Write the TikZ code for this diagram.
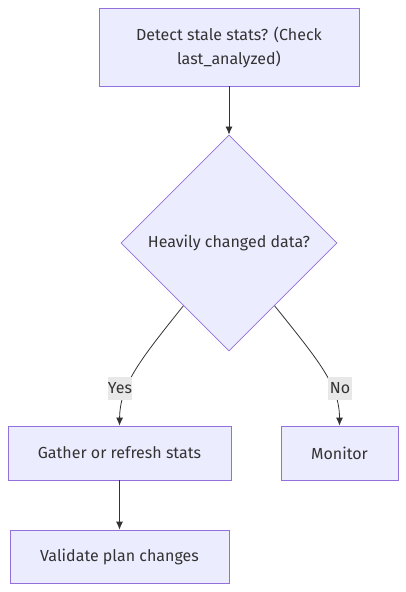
\documentclass[tikz,border=0pt]{standalone}
\usepackage{fontspec}
\setmainfont{Fira Sans}
\usetikzlibrary{arrows.meta, shapes.geometric, positioning}
\definecolor{boxfill}{HTML}{ECECFF}
\definecolor{boxline}{HTML}{9370DB}
\definecolor{edgecol}{HTML}{333333}
\definecolor{lblfill}{HTML}{E8E8E8}

\tikzset{
  flowbox/.style={draw=boxline, fill=boxfill, line width=0.8pt, inner sep=0pt,
    align=center, text=edgecol, font=\fontsize{16}{24}\selectfont},
  decision/.style={flowbox, diamond, aspect=1, minimum size=216pt},
  flowedge/.style={draw=edgecol, line width=0.8pt, -{Latex[length=8pt,width=7pt]}},
  edgelabel/.style={fill=lblfill, text=edgecol, inner sep=0pt, minimum width=24pt,
    minimum height=23pt, font=\fontsize{16}{24}\selectfont}
}

\begin{document}
\begin{tikzpicture}[x=1pt, y=-1pt]
  \useasboundingbox (0,0) rectangle (406,592);

  % nodes
  \node[flowbox, minimum width=260pt, minimum height=78pt] (detect) at (229,47)
    {Detect stale stats? (Check\\last\_analyzed)};
  \node[decision] (heavy) at (229,243) {Heavily changed data?};
  \node[flowbox, minimum width=223pt, minimum height=54pt] (gather) at (119.5,453)
    {Gather or refresh stats};
  \node[flowbox, minimum width=117pt, minimum height=54pt] (monitor) at (339.5,453)
    {Monitor};
  \node[flowbox, minimum width=219pt, minimum height=53pt] (validate) at (119.5,556.5)
    {Validate plan changes};

  % edges
  \draw[flowedge] (detect) -- (heavy);
  \draw[flowedge] (heavy.234) .. controls (140,360) and (120,385) .. (gather.north);
  \draw[flowedge] (heavy.306) .. controls (318,360) and (339.5,385) .. (monitor.north);
  \draw[flowedge] (gather) -- (validate);

  % labels
  \node[edgelabel] (yes) at (120,388) {Yes};
  \node[edgelabel] (no) at (340,388) {No};
\end{tikzpicture}
\end{document}
